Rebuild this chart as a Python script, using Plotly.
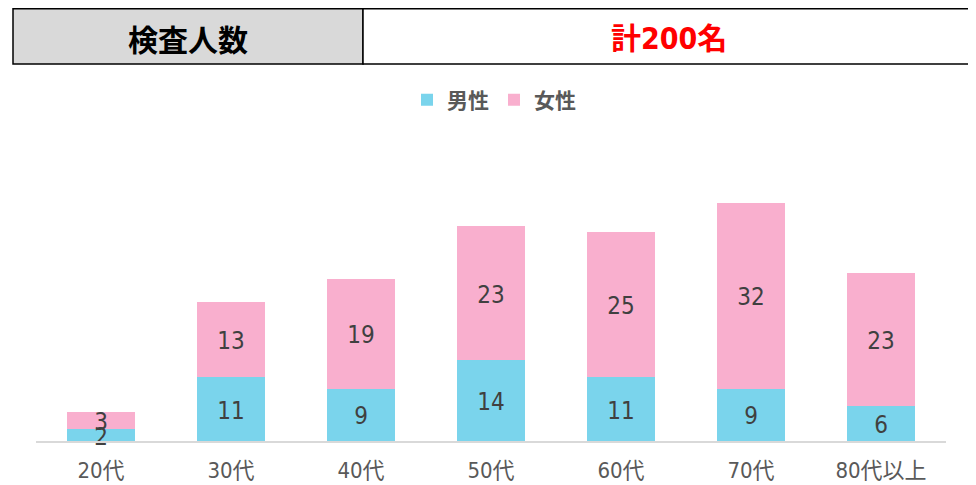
import plotly.graph_objects as go

categories = ["20代", "30代", "40代", "50代", "60代", "70代", "80代以上"]
male = [2, 11, 9, 14, 11, 9, 6]
female = [3, 13, 19, 23, 25, 32, 23]
series_names = ["男性", "女性"]
header_label = "検査人数"
header_value = "計200名"

OFF = 8  # page body margin
W, H = 976 - OFF, 485 - OFF
# plot area in page pixels: x 36..946, y 151..441
L = 36 - OFF
R = (976 - OFF) - (946 - OFF)
T = 151 - OFF
B = H - (441 - OFF)
pw = W - L - R
ph = H - T - B

def px(x):
    return (x - OFF - L) / pw

def py(y):
    return (H - B - (y - OFF)) / ph

CJK = "Noto Sans CJK JP"
NARROW = "DejaVu Sans Condensed, Roboto, Noto Sans CJK JP"

label_font = dict(size=24, color="#404040", family=NARROW)
LABEL_DY = -0.6  # small visual nudge so the glyphs sit at the segment centre

fig = go.Figure()
fig.add_trace(go.Bar(x=categories, y=male, name="<b>" + series_names[0] + "</b>", marker_color="#7AD4EC",
                     marker_line_width=0))
fig.add_trace(go.Bar(x=categories, y=female, name="<b>" + series_names[1] + "</b>", marker_color="#F9AFCE",
                     marker_line_width=0))

# data labels centred in each segment, drawn above all bars
lab_x = categories + categories
lab_y = [m / 2 + LABEL_DY for m in male] + [m + f / 2 + LABEL_DY for m, f in zip(male, female)]
lab_t = [str(v) for v in male + female]
fig.add_trace(go.Scatter(x=lab_x, y=lab_y, text=lab_t, mode="text", textposition="middle center",
                         textfont=label_font, showlegend=False, cliponaxis=False, hoverinfo="skip"))

shapes = [
    dict(type="rect", xref="paper", yref="paper", x0=px(13), x1=px(363), y0=py(64), y1=py(8.8),
         fillcolor="#D9D9D9", line=dict(color="#000000", width=1.5), layer="below"),
    dict(type="rect", xref="paper", yref="paper", x0=px(363), x1=px(980), y0=py(64), y1=py(8.8),
         fillcolor="#FFFFFF", line=dict(color="#000000", width=1.5), layer="below"),
]
annotations = [
    dict(xref="paper", yref="paper", x=px(188), y=py(38), text="<b>" + header_label + "</b>",
         showarrow=False, font=dict(size=30, color="#000000", family=CJK), xanchor="center", yanchor="middle"),
    dict(xref="paper", yref="paper", x=px(669), y=py(38), text="<b>" + header_value + "</b>",
         showarrow=False, font=dict(size=30, color="#FF0000", family=NARROW), xanchor="center", yanchor="middle"),
]

fig.update_layout(
    width=W, height=H,
    barmode="stack", bargap=0.48,
    margin=dict(l=L, r=R, t=T, b=B),
    plot_bgcolor="white", paper_bgcolor="white",
    font=dict(family=CJK, color="#595959"),
    showlegend=True,
    legend=dict(orientation="h", x=px(494), xanchor="center", y=py(100), yanchor="middle",
                font=dict(size=21, color="#595959", family=CJK), itemwidth=30, traceorder="normal"),
    xaxis=dict(showline=True, linecolor="#D9D9D9", linewidth=1.5, ticks="", ticklabelstandoff=9,
               automargin=False,
               tickfont=dict(size=22, color="#595959", family=NARROW), showgrid=False),
    yaxis=dict(range=[0, 50], visible=False, showgrid=False, automargin=False),
    shapes=shapes, annotations=annotations,
)
fig.write_html("out.html")
